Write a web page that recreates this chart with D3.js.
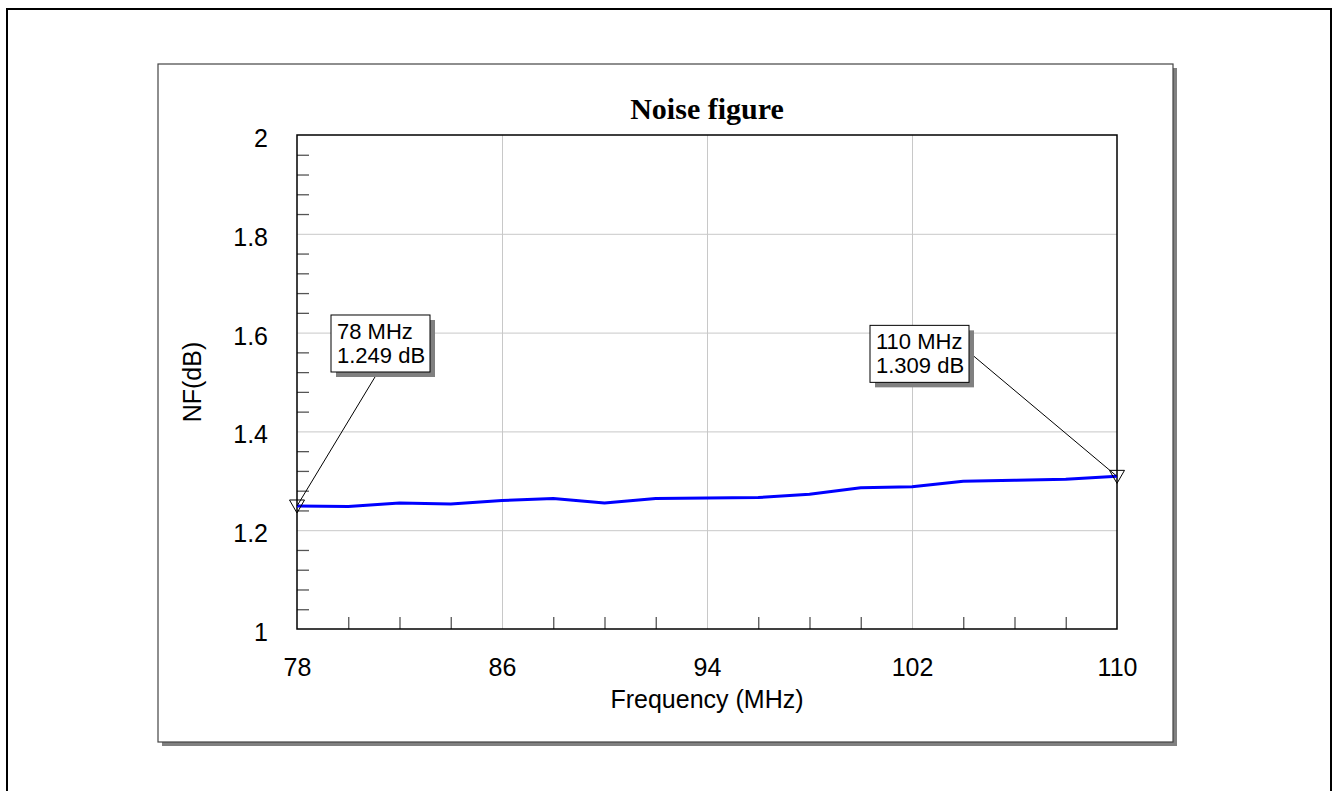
<!DOCTYPE html>
<html>
<head>
<meta charset="utf-8">
<script src="https://cdn.jsdelivr.net/npm/d3@7"></script>
<style>
  body { margin: 0; background: #fff; }
</style>
</head>
<body>
<div id="chart"></div>
<script>
// data
var freqs = [78, 80, 82, 84, 86, 88, 90, 92, 94, 96, 98, 100, 102, 104, 106, 108, 110];
var nf = [1.249, 1.248, 1.255, 1.253, 1.260, 1.264, 1.255, 1.264, 1.265, 1.266, 1.273, 1.286, 1.288, 1.299, 1.301, 1.303, 1.309];
var xLabels = [78, 86, 94, 102, 110];
var yLabels = [1, 1.2, 1.4, 1.6, 1.8, 2];
var markerFreqs = [78, 110];
var markerVals = [1.249, 1.309];
var markerText = [["78 MHz", "1.249 dB"], ["110 MHz", "1.309 dB"]];

var SANS = 'Arial, "Liberation Sans", sans-serif';
var SERIF = '"Times New Roman", "Liberation Serif", serif';

var W = 1333, H = 791;
var svg = d3.select('#chart').append('svg').attr('width', W).attr('height', H);

// outer frame
svg.append('rect').attr('x', 7).attr('y', 9).attr('width', 1324).attr('height', 800)
  .attr('fill', 'none').attr('stroke', '#000').attr('stroke-width', 2);

// panel with shadow
svg.append('rect').attr('x', 162).attr('y', 68).attr('width', 1015).attr('height', 678).attr('fill', '#808080');
svg.append('rect').attr('x', 158).attr('y', 64).attr('width', 1015).attr('height', 678)
  .attr('fill', '#fff').attr('stroke', '#444').attr('stroke-width', 1.2);

var pLeft = 297, pRight = 1117, pTop = 135, pBottom = 629;
var x = d3.scaleLinear().domain([78, 110]).range([pLeft, pRight]);
var y = d3.scaleLinear().domain([1, 2]).range([pBottom, pTop]);

// grid
var grid = svg.append('g');
grid.append('g').attr('transform', 'translate(0,' + pBottom + ')')
  .call(d3.axisBottom(x).tickValues(xLabels.slice(1, -1)).tickSize(-(pBottom - pTop)).tickFormat(''));
grid.append('g').attr('transform', 'translate(' + pLeft + ',0)')
  .call(d3.axisLeft(y).tickValues(yLabels.slice(1, -1)).tickSize(-(pRight - pLeft)).tickFormat(''));
grid.selectAll('.domain').remove();
grid.selectAll('line').attr('stroke', '#c8c8c8').attr('stroke-width', 1);

// minor ticks
var minor = svg.append('g');
minor.append('g').attr('transform', 'translate(0,' + pBottom + ')')
  .call(d3.axisBottom(x).tickValues(d3.range(80, 110, 2).filter(function(v) { return xLabels.indexOf(v) < 0; })).tickSize(-12).tickFormat(''));
minor.append('g').attr('transform', 'translate(' + pLeft + ',0)')
  .call(d3.axisLeft(y).tickValues(d3.range(1, 25).filter(function(i) { return i % 5; }).map(function(i) { return 1 + i * 0.04; })).tickSize(-12).tickFormat(''));
minor.selectAll('.domain').remove();
minor.selectAll('line').attr('stroke', '#555').attr('stroke-width', 1.3);

// plot border
svg.append('rect').attr('x', pLeft).attr('y', pTop).attr('width', pRight - pLeft).attr('height', pBottom - pTop)
  .attr('fill', 'none').attr('stroke', '#000').attr('stroke-width', 1.5);

// tick labels
var xl = svg.append('g').attr('transform', 'translate(0,' + pBottom + ')')
  .call(d3.axisBottom(x).tickValues(xLabels).tickSize(0).tickPadding(30).tickFormat(d3.format('d')));
var yl = svg.append('g').attr('transform', 'translate(' + pLeft + ',0)')
  .call(d3.axisLeft(y).tickValues(yLabels).tickSize(0).tickPadding(29).tickFormat(d3.format('')));
xl.select('.domain').remove();
yl.select('.domain').remove();
xl.attr('font-size', null).attr('font-family', null);
yl.attr('font-size', null).attr('font-family', null);
xl.selectAll('text').style('font-size', '25px').style('font-family', SANS).attr('fill', '#000').attr('dy', '0.68em');
yl.selectAll('text').style('font-size', '25px').style('font-family', SANS).attr('fill', '#000').attr('dy', '0.46em');

// titles
svg.append('text').attr('x', (pLeft + pRight) / 2).attr('y', 119).attr('text-anchor', 'middle')
  .style('font-family', SERIF).style('font-weight', 'bold').style('font-size', '30px').text('Noise figure');
svg.append('text').attr('x', (pLeft + pRight) / 2).attr('y', 708).attr('text-anchor', 'middle')
  .style('font-family', SANS).style('font-size', '25px').text('Frequency (MHz)');
svg.append('text').attr('transform', 'translate(201,' + ((pTop + pBottom) / 2) + ') rotate(-90)')
  .attr('text-anchor', 'middle').style('font-family', SANS).style('font-size', '25px').text('NF(dB)');

// curve
var line = d3.line().x(function(d, i) { return x(freqs[i]); }).y(function(d) { return y(d); });
svg.append('path').datum(nf).attr('d', line).attr('fill', 'none')
  .attr('stroke', '#0000ff').attr('stroke-width', 3).attr('stroke-linejoin', 'round');

// markers and their boxes
var boxOff = [[34, -191], [-247, -151]];
markerFreqs.forEach(function(f, i) {
  var px = x(f), py = y(markerVals[i]);
  var bx = px + boxOff[i][0], by = py + boxOff[i][1];
  var bw = 99, bh = 57;
  // leader line
  var lx = i == 0 ? bx + 47 : bx + bw + 5;
  var ly = i == 0 ? by + bh : by + 31;
  svg.append('line').attr('x1', lx).attr('y1', ly).attr('x2', px).attr('y2', py)
    .attr('stroke', '#000').attr('stroke-width', 1);
  svg.append('rect').attr('x', bx + 5).attr('y', by + 5).attr('width', bw).attr('height', bh).attr('fill', '#808080');
  svg.append('rect').attr('x', bx).attr('y', by).attr('width', bw).attr('height', bh)
    .attr('fill', '#fff').attr('stroke', '#000').attr('stroke-width', 1);
  markerText[i].forEach(function(t, j) {
    svg.append('text').attr('x', bx + 6).attr('y', by + 24 + j * 24)
      .style('font-family', SANS).style('font-size', '22px').text(t);
  });
  svg.append('path')
    .attr('d', 'M' + (px - 7.5) + ',' + (py - 6) + 'L' + (px + 7.5) + ',' + (py - 6) + 'L' + px + ',' + (py + 7) + 'Z')
    .attr('fill', 'none').attr('stroke', '#000').attr('stroke-width', 1);
});
</script>
</body>
</html>
